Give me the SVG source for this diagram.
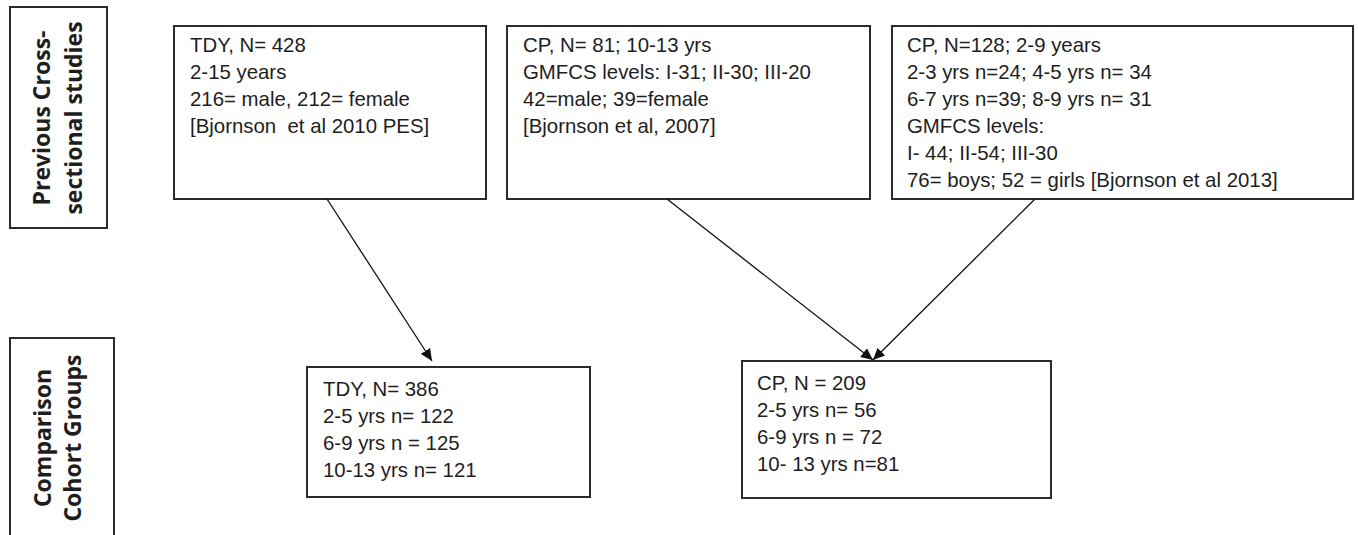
<svg xmlns="http://www.w3.org/2000/svg" width="1358" height="535" viewBox="0 0 1358 535">
  <defs>
    <style>
      .box { fill: #ffffff; stroke: #2b2b2b; stroke-width: 2; }
      .txt { font-family: "Liberation Sans", Arial, sans-serif; font-size: 20.4px; fill: #1e1e1e; }
      .lbl { font-family: "Open Sans", "Liberation Sans", sans-serif; font-size: 23px; font-weight: bold; fill: #1e1e1e; text-anchor: middle; }
      .conn { stroke: #111111; stroke-width: 1.3; fill: none; }
    </style>
    <marker id="arrow" viewBox="0 0 12 12" refX="12" refY="6" markerWidth="12" markerHeight="12" markerUnits="userSpaceOnUse" orient="auto">
      <path d="M0,0.5 L12,6 L0,11.5 z" fill="#111111"/>
    </marker>
  </defs>

  <rect width="1358" height="535" fill="#ffffff"/>

  <!-- row labels -->
  <g id="label-previous">
    <rect class="box" x="10" y="7" width="97" height="221"/>
    <text class="lbl" transform="translate(50,118) rotate(-90)">Previous Cross-</text>
    <text class="lbl" transform="translate(82,118) rotate(-90)">sectional studies</text>
  </g>
  <g id="label-comparison">
    <rect class="box" x="10" y="338" width="104" height="210"/>
    <text class="lbl" transform="translate(51,438) rotate(-90)">Comparison</text>
    <text class="lbl" transform="translate(81,438) rotate(-90)">Cohort Groups</text>
  </g>

  <!-- previous studies -->
  <g id="study-tdy">
    <rect class="box" x="174" y="26" width="312" height="173"/>
    <text class="txt" x="190" y="52">TDY, N= 428</text>
    <text class="txt" x="190" y="79">2-15 years</text>
    <text class="txt" x="190" y="106">216= male, 212= female</text>
    <text class="txt" x="190" y="133" xml:space="preserve">[Bjornson  et al 2010 PES]</text>
  </g>
  <g id="study-cp-2007">
    <rect class="box" x="507" y="26" width="363" height="173"/>
    <text class="txt" x="523" y="52">CP, N= 81; 10-13 yrs</text>
    <text class="txt" x="523" y="79">GMFCS levels: I-31; II-30; III-20</text>
    <text class="txt" x="523" y="106">42=male; 39=female</text>
    <text class="txt" x="523" y="133">[Bjornson et al, 2007]</text>
  </g>
  <g id="study-cp-2013">
    <rect class="box" x="892" y="26" width="461" height="173"/>
    <text class="txt" x="907" y="52">CP, N=128; 2-9 years</text>
    <text class="txt" x="907" y="79">2-3 yrs n=24; 4-5 yrs n= 34</text>
    <text class="txt" x="907" y="106">6-7 yrs n=39; 8-9 yrs n= 31</text>
    <text class="txt" x="907" y="133">GMFCS levels:</text>
    <text class="txt" x="907" y="160">I- 44; II-54; III-30</text>
    <text class="txt" x="907" y="187">76= boys; 52 = girls [Bjornson et al 2013]</text>
  </g>

  <!-- comparison cohorts -->
  <g id="cohort-tdy">
    <rect class="box" x="307" y="367" width="283" height="130"/>
    <text class="txt" x="323" y="396">TDY, N= 386</text>
    <text class="txt" x="323" y="423">2-5 yrs n= 122</text>
    <text class="txt" x="323" y="450">6-9 yrs n = 125</text>
    <text class="txt" x="323" y="477">10-13 yrs n= 121</text>
  </g>
  <g id="cohort-cp">
    <rect class="box" x="742" y="361" width="309" height="137"/>
    <text class="txt" x="757" y="390">CP, N = 209</text>
    <text class="txt" x="757" y="417">2-5 yrs n= 56</text>
    <text class="txt" x="757" y="444">6-9 yrs n = 72</text>
    <text class="txt" x="757" y="471">10- 13 yrs n=81</text>
  </g>

  <!-- connectors -->
  <g id="connectors">
    <line class="conn" x1="327" y1="199" x2="432" y2="361" marker-end="url(#arrow)"/>
    <line class="conn" x1="667" y1="199" x2="873" y2="360" marker-end="url(#arrow)"/>
    <line class="conn" x1="1035" y1="199" x2="873" y2="360" marker-end="url(#arrow)"/>
  </g>
</svg>
